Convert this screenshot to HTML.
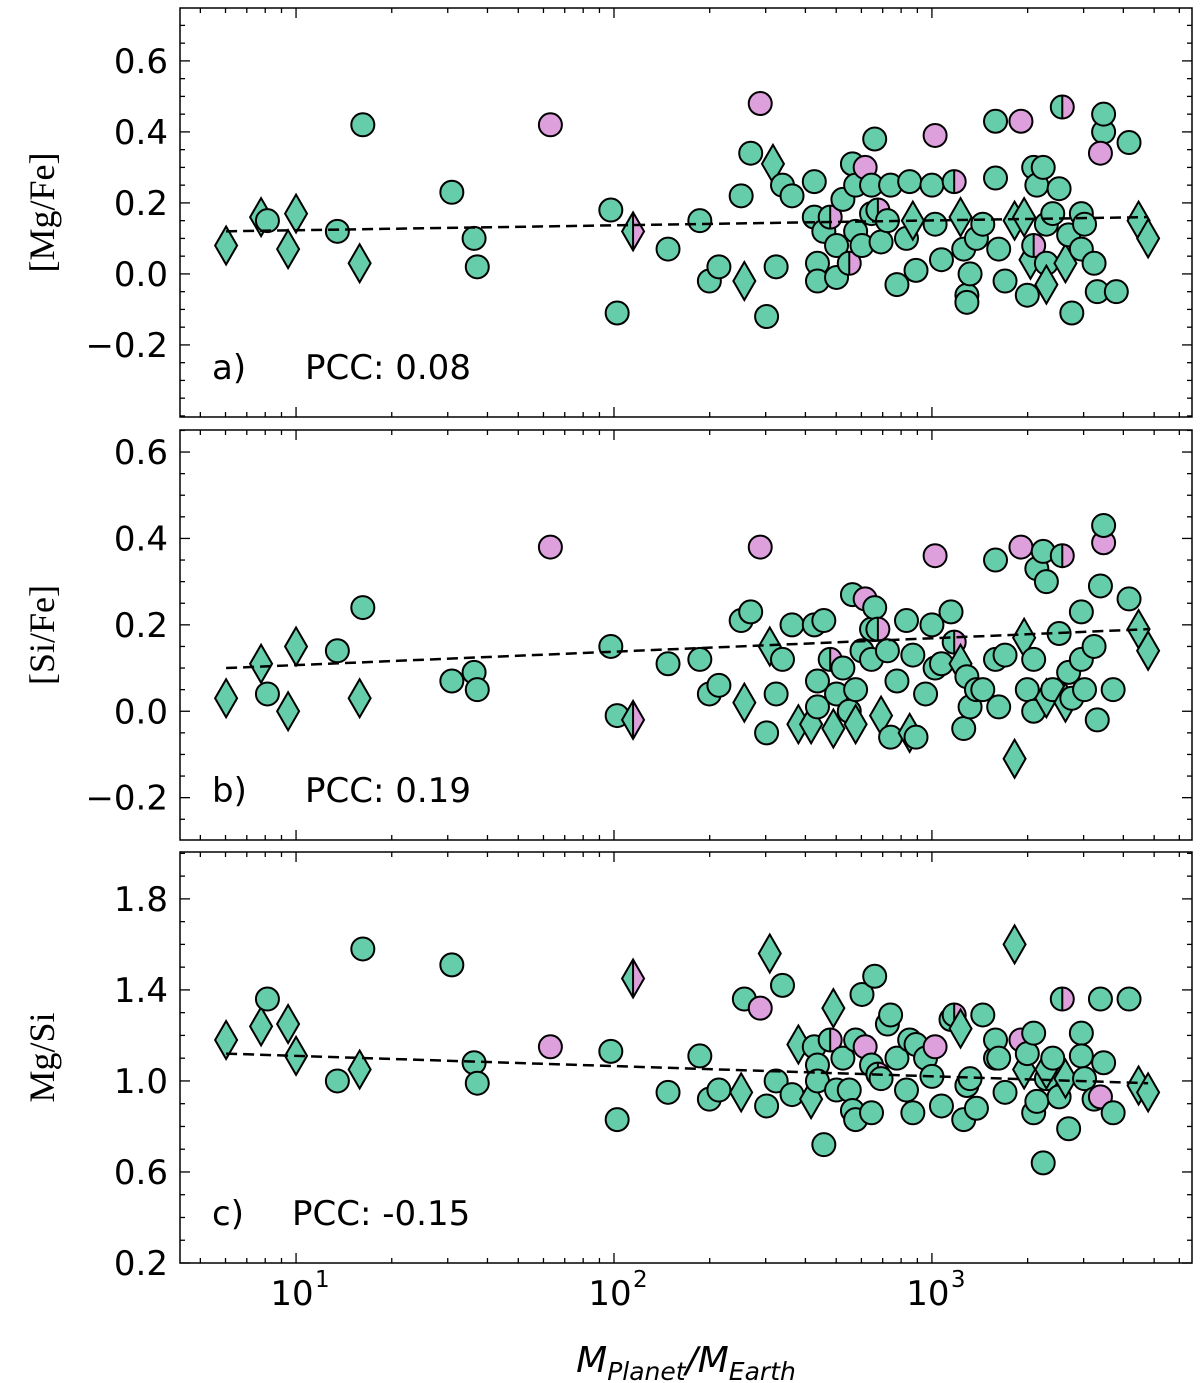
<!DOCTYPE html>
<html><head><meta charset="utf-8"><style>
body{margin:0;background:#fff;}
svg{display:block;font-family:"DejaVu Sans","Liberation Sans",sans-serif;}
</style></head><body>
<svg id="chart" width="1200" height="1383" viewBox="0 0 1200 1383" xmlns="http://www.w3.org/2000/svg"></svg>
<script>
// ---- shared axis data ----
const xMinLog = 0.635, xMaxLog = 3.818;
const xMajorTicks = [1, 2, 3];
const xTickLabels = ["10", "10", "10"];
const xTickExps = ["1", "2", "3"];

// ---- panel a: [Mg/Fe] ----
const aLogM = [0.78,0.89,0.91,0.975,1.00,1.13,1.20,1.21,1.49,1.56,1.57,1.99,2.01,2.06,1.80,2.17,2.30,2.33,2.27,2.40,2.41,2.43,2.46,2.48,2.50,2.51,2.53,2.56,2.63,2.63,2.64,2.64,2.66,2.68,2.70,2.70,2.72,2.74,2.75,2.76,2.76,2.78,2.79,2.81,2.81,2.82,2.83,2.84,2.86,2.87,2.89,2.92,2.93,2.94,2.95,3.00,3.01,3.01,3.03,3.07,3.09,3.10,3.11,3.11,3.12,3.14,3.16,3.20,3.20,3.21,3.23,3.26,3.28,3.29,3.30,3.31,3.32,3.32,3.33,3.35,3.36,3.36,3.36,3.38,3.40,3.41,3.42,3.43,3.44,3.47,3.47,3.48,3.51,3.52,3.54,3.54,3.53,3.58,3.62,3.65,3.68];
const aVal = [0.08,0.16,0.15,0.07,0.17,0.12,0.03,0.42,0.23,0.10,0.02,0.18,-0.11,0.12,0.42,0.07,-0.02,0.02,0.15,0.22,-0.02,0.34,0.48,-0.12,0.31,0.02,0.25,0.22,0.26,0.16,0.03,-0.02,0.12,0.16,0.08,-0.01,0.21,0.03,0.31,0.25,0.12,0.08,0.30,0.17,0.25,0.38,0.18,0.09,0.15,0.25,-0.03,0.10,0.26,0.15,0.01,0.25,0.14,0.39,0.04,0.26,0.16,0.07,-0.06,-0.08,0.00,0.10,0.14,0.27,0.43,0.07,-0.02,0.15,0.43,0.16,-0.06,0.04,0.08,0.30,0.25,0.30,0.14,0.03,-0.03,0.17,0.24,0.47,0.03,0.11,-0.11,0.07,0.17,0.14,0.03,-0.05,0.40,0.45,0.34,-0.05,0.37,0.15,0.10];
const aType = "ddcddcdccc" + "ccc" + "Hpccccc" + "dcpcdccccc" + "ccchccchcc" + "ccpccchccc" + "cccdcccpch" + "dccccccccc" + "cdpdcdhccc" + "ccdcchdccc" + "ccccccpccdd";
const aFit = [0.12, 0.16];
const aTicks = [-0.2, 0.0, 0.2, 0.4, 0.6];

// ---- panel b: [Si/Fe] ----
const bLogM = [0.78,0.89,0.91,0.975,1.00,1.13,1.20,1.21,1.49,1.56,1.57,1.80,1.99,2.01,2.06,2.17,2.30,2.33,2.27,2.40,2.41,2.43,2.46,2.48,2.49,2.51,2.53,2.56,2.58,2.62,2.63,2.64,2.64,2.66,2.68,2.69,2.70,2.72,2.74,2.75,2.76,2.76,2.78,2.79,2.81,2.81,2.82,2.83,2.84,2.86,2.87,2.89,2.92,2.93,2.94,2.95,2.98,3.00,3.01,3.01,3.03,3.06,3.07,3.09,3.10,3.11,3.12,3.14,3.16,3.20,3.20,3.21,3.23,3.26,3.28,3.29,3.30,3.32,3.32,3.33,3.35,3.36,3.36,3.38,3.40,3.41,3.42,3.43,3.44,3.47,3.47,3.48,3.51,3.52,3.53,3.54,3.54,3.57,3.62,3.65,3.68];
const bVal = [0.03,0.11,0.04,0.00,0.15,0.14,0.03,0.24,0.07,0.09,0.05,0.38,0.15,-0.01,-0.02,0.11,0.04,0.06,0.12,0.21,0.02,0.23,0.38,-0.05,0.15,0.04,0.12,0.20,-0.03,-0.03,0.20,0.01,0.07,0.21,0.12,-0.04,0.04,0.10,0.00,0.27,0.05,-0.03,0.14,0.26,0.19,0.12,0.24,0.19,-0.01,0.14,-0.06,0.07,0.21,-0.05,0.13,-0.06,0.04,0.20,0.10,0.36,0.11,0.23,0.16,0.11,-0.04,0.08,0.01,0.05,0.05,0.35,0.12,0.01,0.13,-0.11,0.38,0.17,0.05,0.12,0.00,0.33,0.37,0.30,0.03,0.05,0.18,0.36,0.02,0.09,0.03,0.23,0.12,0.05,0.15,-0.02,0.29,0.39,0.43,0.05,0.26,0.19,0.14];
const bType = "ddcddcdccc" + "cpccHccccc" + "dcpcdcccdd" + "cccchdcccc" + "cdcpccchdc" + "cccdcccccp" + "cchdcccccc" + "cccdpdcccc" + "ccdcchdccc" + "cccccpcccdd";
const bFit = [0.10, 0.19];
const bTicks = [-0.2, 0.0, 0.2, 0.4, 0.6];

// ---- panel c: Mg/Si ----
const cLogM = [0.78,0.89,0.91,0.975,1.00,1.13,1.20,1.21,1.49,1.56,1.57,1.80,1.99,2.01,2.06,2.17,2.30,2.33,2.27,2.40,2.41,2.46,2.48,2.49,2.51,2.53,2.56,2.58,2.62,2.63,2.64,2.64,2.66,2.68,2.69,2.70,2.72,2.74,2.75,2.76,2.76,2.78,2.79,2.81,2.81,2.82,2.83,2.84,2.86,2.87,2.89,2.92,2.93,2.94,2.95,2.98,3.00,3.01,3.03,3.06,3.07,3.09,3.10,3.11,3.12,3.14,3.16,3.20,3.20,3.21,3.23,3.26,3.28,3.29,3.30,3.32,3.32,3.33,3.35,3.36,3.36,3.38,3.40,3.41,3.42,3.43,3.47,3.47,3.48,3.51,3.53,3.53,3.54,3.57,3.62,3.65,3.68];
const cVal = [1.18,1.24,1.36,1.25,1.11,1.00,1.05,1.58,1.51,1.08,0.99,1.15,1.13,0.83,1.45,0.95,0.92,0.96,1.11,0.95,1.36,1.32,0.89,1.56,1.00,1.42,0.94,1.16,0.92,1.15,1.07,1.00,0.72,1.18,1.32,0.96,1.10,0.96,0.87,0.83,1.18,1.38,1.15,0.86,1.07,1.46,1.03,1.01,1.25,1.29,1.10,0.96,1.18,0.86,1.16,1.10,1.02,1.15,0.89,1.27,1.29,1.23,0.83,0.98,1.01,0.88,1.29,1.10,1.18,1.10,0.95,1.60,1.18,1.05,1.12,0.86,1.21,0.91,0.64,1.01,1.05,1.10,0.93,1.36,1.01,0.79,1.21,1.11,1.01,0.92,1.36,0.93,1.08,0.86,1.36,0.98,0.95];
const cType = "ddcddcdccc" + "cpccHccccd" + "cpcdcccddc" + "ccchdccccc" + "ccpccchccc" + "cccccccpcc" + "hdcccccccc" + "cdpdcccccc" + "dcchdccccc" + "cpcccdd";
const cFit = [1.12, 0.99];
const cTicks = [0.2, 0.6, 1.0, 1.4, 1.8];

const NS = "http://www.w3.org/2000/svg";
const svg = document.getElementById("chart");
const GREEN = "#66cdaa", PINK = "#dda0dd";
const L = 180, R = 1192;
function xScale(lm){ return L + (lm - xMinLog) / (xMaxLog - xMinLog) * (R - L); }
function el(tag, attrs, parent){
  const e = document.createElementNS(NS, tag);
  for (const k in attrs) e.setAttribute(k, attrs[k]);
  (parent || svg).appendChild(e);
  return e;
}

const panels = [
  {id:"a", top:8, bottom:417, ymin:-0.403, ymax:0.749, logM:aLogM, val:aVal, type:aType, fit:aFit, ticks:aTicks, minor:0.05, dec:1, label:"[Mg/Fe]", letter:"a)", pcc:"PCC: 0.08", pccX:305},
  {id:"b", top:430, bottom:840, ymin:-0.298, ymax:0.651, logM:bLogM, val:bVal, type:bType, fit:bFit, ticks:bTicks, minor:0.05, dec:1, label:"[Si/Fe]", letter:"b)", pcc:"PCC: 0.19", pccX:305},
  {id:"c", top:852, bottom:1263, ymin:0.2, ymax:2.006, logM:cLogM, val:cVal, type:cType, fit:cFit, ticks:cTicks, minor:0.1, dec:1, label:"Mg/Si", letter:"c)", pcc:"PCC: -0.15", pccX:292}
];

panels.forEach(p => {
  const ys = v => p.bottom - (v - p.ymin) / (p.ymax - p.ymin) * (p.bottom - p.top);
  const g = el("g", {});
  
  
  const clipId = "clip" + p.id;
  const cp = el("clipPath", {id: clipId}, g);
  el("rect", {x:L, y:p.top, width:R-L, height:p.bottom-p.top}, cp);
  const marks = el("g", {"clip-path":"url(#"+clipId+")"}, g);
  
  

  for (let i = 0; i < p.val.length; i++) {
    const cx = xScale(p.logM[i]), cy = ys(p.val[i]), t = p.type[i];
    let m;
    if (t === "d") {
      m = el("polygon", {points:`${cx},${cy-19} ${cx+11},${cy} ${cx},${cy+19} ${cx-11},${cy}`, fill:GREEN, stroke:"#000", "stroke-width":2}, marks);
      
    } else if (t === "H") {
      m = el("g", {}, marks);
      el("polygon", {points:`${cx},${cy-19} ${cx},${cy+19} ${cx-11},${cy}`, fill:GREEN}, m);
      el("polygon", {points:`${cx},${cy-19} ${cx+11},${cy} ${cx},${cy+19}`, fill:PINK}, m);
      el("line", {x1:cx, y1:cy-19, x2:cx, y2:cy+19, stroke:"#000", "stroke-width":2}, m);
      el("polygon", {points:`${cx},${cy-19} ${cx+11},${cy} ${cx},${cy+19} ${cx-11},${cy}`, fill:"none", stroke:"#000", "stroke-width":2}, m);
      
    } else if (t === "h") {
      m = el("g", {}, marks);
      el("path", {d:`M${cx},${cy-11.5} A11.5,11.5 0 0 0 ${cx},${cy+11.5} Z`, fill:GREEN}, m);
      el("path", {d:`M${cx},${cy-11.5} A11.5,11.5 0 0 1 ${cx},${cy+11.5} Z`, fill:PINK}, m);
      el("line", {x1:cx, y1:cy-11.5, x2:cx, y2:cy+11.5, stroke:"#000", "stroke-width":2}, m);
      el("circle", {cx:cx, cy:cy, r:11.5, fill:"none", stroke:"#000", "stroke-width":2}, m);
      
    } else {
      m = el("circle", {cx:cx, cy:cy, r:11.5, fill: t === "p" ? PINK : GREEN, stroke:"#000", "stroke-width":2}, marks);
      
    }
    
  }
  const fl = el("line", {x1:xScale(0.78), y1:ys(p.fit[0]), x2:xScale(3.68), y2:ys(p.fit[1]), stroke:"#000", "stroke-width":2.5, "stroke-dasharray":"11,6"}, g);
  
  

  const fr = el("rect", {x:L, y:p.top, width:R-L, height:p.bottom-p.top, fill:"none", stroke:"#000", "stroke-width":1.5}, g);
  
  

  for (let v = Math.ceil(p.ymin / p.minor) * p.minor; v <= p.ymax + 1e-9; v += p.minor) {
    const y = ys(v);
    const major = p.ticks.some(t => Math.abs(t - v) < 1e-6);
    const len = major ? 10 : 5;
    el("line", {x1:L, y1:y, x2:L+len, y2:y, stroke:"#000", "stroke-width":1.3}, g);
    el("line", {x1:R, y1:y, x2:R-len, y2:y, stroke:"#000", "stroke-width":1.3}, g);
  }
  p.ticks.forEach(t => {
    const tx = el("text", {x:L-12, y:ys(t)+12, "text-anchor":"end", "font-size":34, fill:"#000"}, g);
    tx.textContent = (t < 0 ? "\u2212" : "") + Math.abs(t).toFixed(p.dec);
    
    
  });
  for (let d = 0; d <= 3; d++) {
    for (let k = 1; k <= 9; k++) {
      const lm = d + Math.log10(k);
      if (lm < xMinLog || lm > xMaxLog) continue;
      const x = xScale(lm);
      const len = k === 1 ? 10 : 5;
      el("line", {x1:x, y1:p.bottom, x2:x, y2:p.bottom-len, stroke:"#000", "stroke-width":1.3}, g);
      el("line", {x1:x, y1:p.top, x2:x, y2:p.top+len, stroke:"#000", "stroke-width":1.3}, g);
    }
  }
  const yl = el("text", {x:0, y:0, "text-anchor":"middle", "font-size":36, "font-family":"Liberation Serif, serif", transform:`translate(54,${(p.top+p.bottom)/2}) rotate(-90)`}, g);
  yl.textContent = p.label;
  
  
  const lt = el("text", {x:212, y:p.bottom-38, "font-size":34}, g);
  lt.textContent = p.letter;
  
  
  const pc = el("text", {x:p.pccX, y:p.bottom-38, "font-size":34}, g);
  pc.textContent = p.pcc;
  
  
});

xMajorTicks.forEach((t, i) => {
  const x = xScale(t);
  const tx = el("text", {x:x-4, y:1305, "text-anchor":"middle", "font-size":34});
  tx.textContent = xTickLabels[i];
  
  
  const ex = el("text", {x:x+19, y:1287, "font-size":23});
  ex.textContent = xTickExps[i];
  
  
});
const xt = el("text", {x:686, y:1372, "text-anchor":"middle", "font-size":36, "font-style":"italic"});


xt.innerHTML = 'M<tspan font-size="25" dy="8">Planet</tspan><tspan dy="-8">/M</tspan><tspan font-size="25" dy="8">Earth</tspan>';
</script>
</body></html>
